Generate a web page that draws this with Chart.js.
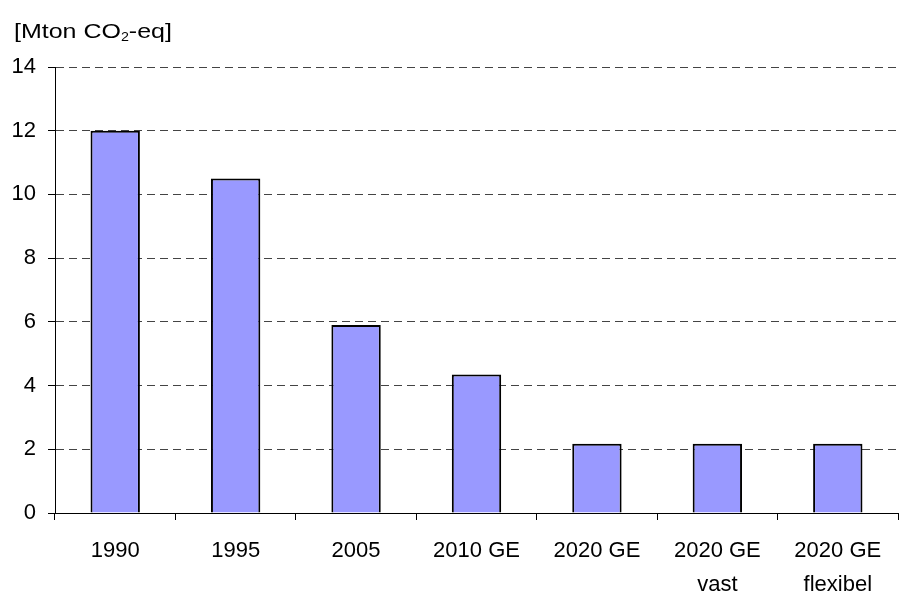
<!DOCTYPE html>
<html><head><meta charset="utf-8">
<script src="https://cdn.jsdelivr.net/npm/chart.js@4/dist/chart.umd.min.js"></script>
<style>html,body{margin:0;padding:0;background:#fff}#wrap{width:901px;height:592px}</style>
</head><body><div id="wrap"><canvas id="c" width="901" height="592"></canvas></div>
<script>
const categories = ["1990", "1995", "2005", "2010 GE", "2020 GE", ["2020 GE", "vast"], ["2020 GE", "flexibel"]];
const emissions = [12, 10.5, 5.9, 4.35, 2.17, 2.17, 2.17];
const yTicks = [0, 2, 4, 6, 8, 10, 12, 14];
const unitMain = "[Mton CO";
const unitSub = "2";
const unitTail = "-eq]";

const FONT = "Liberation Sans, Arial, sans-serif";

const unitPlugin = {
  id: 'unitLabel',
  afterDraw(chart) {
    const ctx = chart.ctx;
    ctx.save();
    ctx.translate(14, 0);
    ctx.scale(1.19, 1);
    ctx.fillStyle = '#000';
    ctx.textBaseline = 'alphabetic';
    ctx.textAlign = 'left';
    let x = 0, y = 38;
    ctx.font = '21px ' + FONT;
    ctx.fillText(unitMain, x, y);
    x += ctx.measureText(unitMain).width;
    ctx.font = '12px ' + FONT;
    ctx.fillText(unitSub, x, y + 3);
    x += ctx.measureText(unitSub).width;
    ctx.font = '21px ' + FONT;
    ctx.fillText(unitTail, x, y);
    ctx.restore();
  }
};

new Chart(document.getElementById('c'), {
  type: 'bar',
  data: {
    labels: categories,
    datasets: [{
      data: emissions,
      backgroundColor: '#9999FF',
      borderColor: '#000',
      borderWidth: 2,
      barPercentage: 0.41,
      categoryPercentage: 1.0
    }]
  },
  options: {
    responsive: false,
    animation: false,
    devicePixelRatio: 1,
    layout: { padding: { top: 67, right: 3, left: 0, bottom: 0 } },
    plugins: { legend: { display: false }, tooltip: { enabled: false } },
    scales: {
      x: {
        offset: true,
        grid: { display: true, drawOnChartArea: false, drawTicks: true, tickLength: 7, color: '#000', offset: true },
        border: { display: true, color: '#000', width: 1 },
        ticks: { color: '#000', font: { family: FONT, size: 22, lineHeight: 1.55 }, padding: 14, maxRotation: 0, autoSkip: false },
        afterFit(s) { s.height = 79; }
      },
      y: {
        min: 0, max: 14,
        afterBuildTicks(s) { s.ticks = yTicks.map(v => ({ value: v })); },
        grid: { color: '#444', lineWidth: 1, tickLength: 7, tickColor: '#000', tickBorderDash: [] },
        border: { display: true, color: '#000', width: 1, dash: [8, 5] },
        ticks: { color: '#000', font: { family: FONT, size: 22 }, padding: 12 },
        afterFit(s) { s.width = 55; }
      }
    }
  },
  plugins: [unitPlugin]
});
</script>
</body></html>
